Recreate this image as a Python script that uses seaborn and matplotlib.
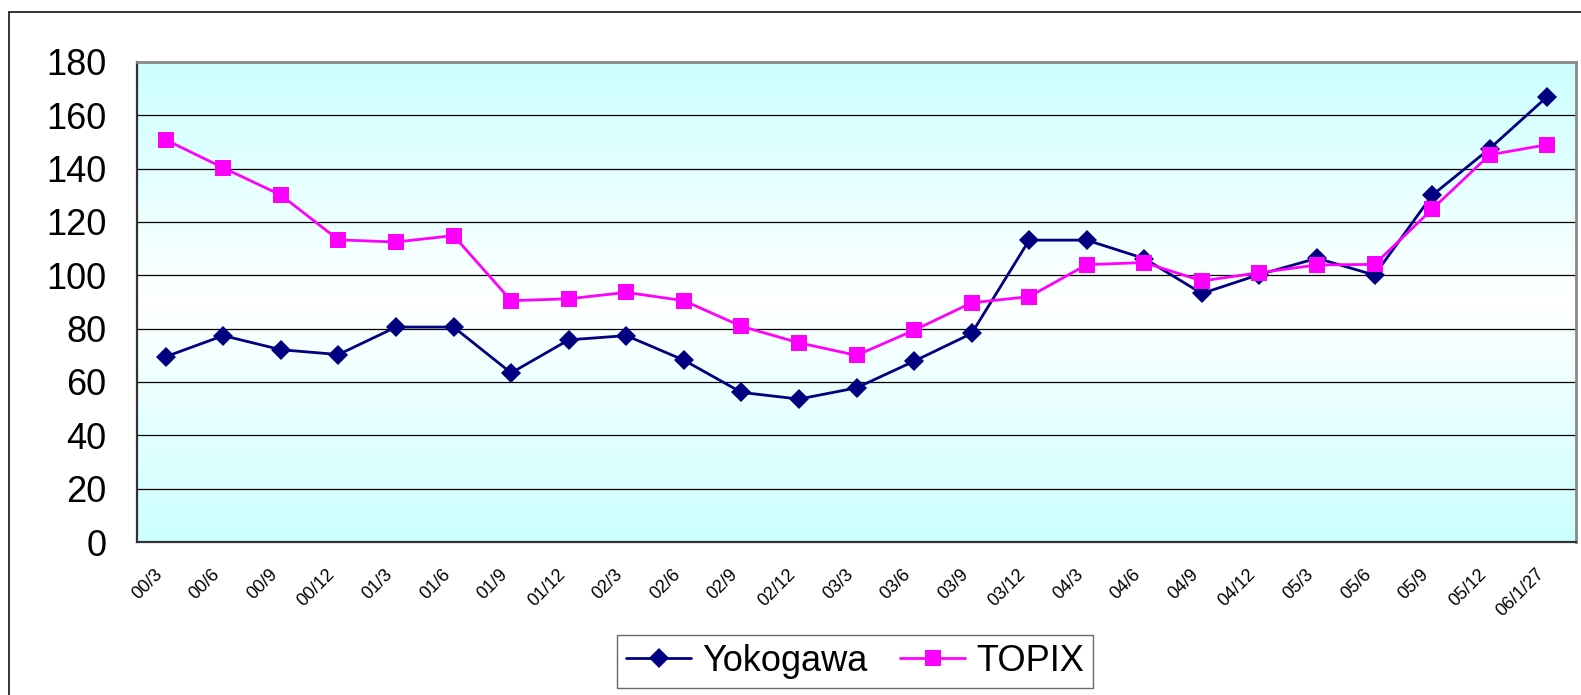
import numpy as np
import pandas as pd
import matplotlib
matplotlib.use("Agg")
import matplotlib.pyplot as plt
import matplotlib.transforms as mtransforms
import seaborn as sns
from matplotlib.lines import Line2D
from matplotlib.colors import LinearSegmentedColormap

periods = ["00/3", "00/6", "00/9", "00/12", "01/3", "01/6", "01/9", "01/12",
           "02/3", "02/6", "02/9", "02/12", "03/3", "03/6", "03/9", "03/12",
           "04/3", "04/6", "04/9", "04/12", "05/3", "05/6", "05/9", "05/12",
           "06/1/27"]
yokogawa = [69.5, 77.4, 72.1, 70.3, 80.6, 80.6, 63.4, 75.8, 77.4, 68.2,
            56.1, 53.6, 57.8, 67.8, 78.2, 113.2, 113.2, 106.3, 93.2, 100.3,
            106.4, 100.1, 130.0, 147.5, 167.0]
topix = [150.8, 140.3, 130.1, 113.3, 112.5, 114.9, 90.5, 91.2, 93.6, 90.5,
         80.9, 74.7, 70.0, 79.4, 89.7, 92.0, 104.0, 104.8, 97.9, 101.0,
         103.9, 104.1, 124.8, 145.2, 149.0]
yticks = [0, 20, 40, 60, 80, 100, 120, 140, 160, 180]

df = pd.DataFrame({
    "period": periods * 2,
    "value": yokogawa + topix,
    "series": ["Yokogawa"] * len(periods) + ["TOPIX"] * len(periods),
})

sns.set_style("white")
plt.rcParams["font.family"] = ["Liberation Sans", "DejaVu Sans"]
plt.rcParams["text.color"] = "black"
plt.rcParams["xtick.color"] = "black"
plt.rcParams["ytick.color"] = "black"

W, H = 1581, 695
fig = plt.figure(figsize=(W / 100, H / 100), dpi=100)
ax = fig.add_axes([137 / W, 1 - 542 / H, (1576 - 137) / W, (542 - 62) / H])

# gradient background: cyan at edges, white in middle
cmap = LinearSegmentedColormap.from_list("bg", ["#CCFFFF", "#FFFFFF", "#CCFFFF"])
grad = np.linspace(0, 1, 256).reshape(-1, 1)
ax.imshow(grad, aspect="auto", cmap=cmap, extent=(0, 1, 0, 1),
          transform=ax.transAxes, zorder=0, interpolation="bicubic")

MS_D, MS_S, LW = 10, 12, 2.0
sns.lineplot(data=df, x="period", y="value", hue="series", style="series",
             markers={"Yokogawa": "D", "TOPIX": "s"}, dashes=False,
             palette={"Yokogawa": "#000080", "TOPIX": "#FF00FF"},
             markersize=MS_S, linewidth=LW, markeredgewidth=0, sort=False,
             legend=False, ax=ax, zorder=3)
for ln, ms in zip(ax.lines, [MS_D, MS_S]):
    ln.set_markersize(ms)

ax.set_xlim(-0.5, len(periods) - 0.5)
ax.set_ylim(0, 180)
ax.set_yticks(yticks)
ax.set_yticklabels([str(v) for v in yticks], fontsize=26, color="black")
ax.set_xticks(range(len(periods)))
ax.set_xticklabels(periods, rotation=45, ha="right", rotation_mode="anchor",
                   fontsize=13, color="black")
ax.tick_params(axis="y", direction="in", length=4, pad=22, color="#333333")
ax.tick_params(axis="x", direction="in", length=0, pad=17)
shift = mtransforms.ScaledTranslation(-12 / 100, 0, fig.dpi_scale_trans)
for lab in ax.get_xticklabels():
    lab.set_transform(lab.get_transform() + shift)
# minor ticks at category boundaries
ax.set_xticks(np.arange(-0.5, len(periods), 1.0), minor=True)
ax.tick_params(axis="x", which="minor", direction="in", length=4, color="#333333")
ax.set_xlabel("")
ax.set_ylabel("")
ax.grid(False)
for v in yticks[1:-1]:
    ax.axhline(v, color="#000000", lw=0.9, zorder=1)

for side in ["top", "right"]:
    ax.spines[side].set_color("#888888")
    ax.spines[side].set_linewidth(2.0)
for side in ["left", "bottom"]:
    ax.spines[side].set_color("#333333")
    ax.spines[side].set_linewidth(1.6)

handles = [
    Line2D([], [], color="#000080", marker="D", markersize=MS_D, lw=LW,
           markeredgewidth=0),
    Line2D([], [], color="#FF00FF", marker="s", markersize=MS_S, lw=LW,
           markeredgewidth=0),
]
leg = fig.legend(handles, ["Yokogawa", "TOPIX"], loc="center",
                 bbox_to_anchor=(855 / W, 1 - 661.5 / H), ncol=2,
                 fontsize=26, frameon=True, fancybox=False, handlelength=1.8,
                 handletextpad=0.3, columnspacing=0.9, borderpad=0.25,
                 borderaxespad=0, labelcolor="black")
leg.get_frame().set_edgecolor("#444444")
leg.get_frame().set_linewidth(1.0)

# outer chart frame
fig.add_artist(Line2D([9 / W, 1.0], [1 - 12 / H, 1 - 12 / H],
                      transform=fig.transFigure, color="#333333", lw=1.4))
fig.add_artist(Line2D([9 / W, 9 / W], [0, 1 - 12 / H],
                      transform=fig.transFigure, color="#333333", lw=1.4))

fig.savefig("out.png", dpi=100)
